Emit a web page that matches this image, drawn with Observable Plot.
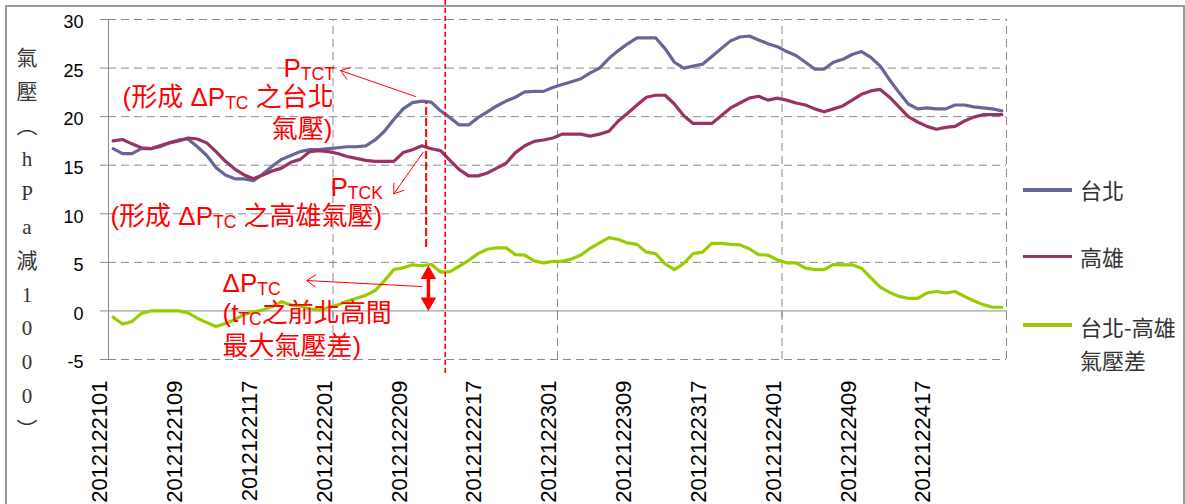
<!DOCTYPE html>
<html>
<head>
<meta charset="utf-8">
<script src="https://cdn.jsdelivr.net/npm/d3@7"></script>
<script src="https://cdn.jsdelivr.net/npm/@observablehq/plot@0.6"></script>
<style>
  html, body { margin: 0; padding: 0; background: #fff; }
  #chart { position: relative; width: 1185px; height: 504px; overflow: hidden; }
  #frame { position: absolute; left: 5px; top: 5px; width: 1176px; height: 540px; border: 2px solid #9a9a9a; }
  #chart svg { position: absolute; left: 0; top: 0; }
  .ytitle { position: absolute; width: 30px; text-align: center; font: 21px/24px "Liberation Serif", "Noto Sans CJK TC", serif; color: #333; }
  .swatch { position: absolute; left: 1023px; width: 49px; height: 3.5px; }
  .legtext { position: absolute; left: 1080px; font: 22px/33.3px "Noto Sans CJK TC", sans-serif; color: #333; white-space: pre; }
</style>
</head>
<body>
<div id="chart"><div id="frame"></div></div>
<script>
// Hourly sea-level pressure (minus 1000 hPa), 2012-12-21 01h to 2012-12-24 24h
const days = ["20121221", "20121222", "20121223", "20121224"];
const timeLabels = days.flatMap(d => d3.range(1, 25).map(h => d + String(h).padStart(2, "0")));
const tickLabels = [
  "2012122101", "2012122109", "2012122117", "2012122201", "2012122209", "2012122217",
  "2012122301", "2012122309", "2012122317", "2012122401", "2012122409", "2012122417"
];

const taipei = [
  16.7, 16.2, 16.2, 16.7, 16.7, 16.9, 17.3, 17.6,
  17.7, 16.9, 16.0, 14.75, 14.0, 13.6, 13.6, 13.4,
  14.1, 14.9, 15.6, 16.0, 16.4, 16.6, 16.6, 16.7,
  16.8, 16.9, 16.9, 17.0, 17.6, 18.5, 19.7, 20.8,
  21.45, 21.6, 21.5, 20.6, 19.9, 19.15, 19.15, 19.9,
  20.5, 21.1, 21.6, 22.0, 22.55, 22.6, 22.6, 23.0,
  23.3, 23.6, 23.9, 24.5, 25.0, 26.0, 26.8, 27.5,
  28.1, 28.1, 28.1, 27.0, 25.6, 25.0, 25.2, 25.4,
  26.2, 27.0, 27.8, 28.2, 28.3, 27.9, 27.5, 27.2,
  26.7, 26.3, 25.6, 24.9, 24.9, 25.6, 25.9, 26.4,
  26.7, 26.1, 25.2, 23.8, 22.5, 21.3, 20.8, 20.9,
  20.8, 20.8, 21.2, 21.2, 21.0, 20.9, 20.8, 20.6
];

const kaohsiung = [
  17.5, 17.65, 17.2, 16.8, 16.7, 17.0, 17.3, 17.5,
  17.8, 17.7, 17.3, 16.4, 15.4, 14.6, 14.0, 13.6,
  14.0, 14.4, 14.7, 15.3, 15.6, 16.4, 16.5, 16.4,
  16.2, 15.9, 15.7, 15.5, 15.4, 15.4, 15.4, 16.3,
  16.6, 17.0, 16.7, 16.5, 15.5, 14.55, 13.9, 13.9,
  14.2, 14.7, 15.2, 16.3, 17.0, 17.45, 17.6, 17.8,
  18.2, 18.2, 18.2, 18.0, 18.2, 18.5, 19.55, 20.35,
  21.2, 22.0, 22.2, 22.2, 21.3, 20.1, 19.3, 19.3,
  19.3, 20.1, 20.9, 21.4, 21.9, 22.1, 21.7, 21.9,
  21.7, 21.4, 21.2, 20.8, 20.5, 20.8, 21.1, 21.7,
  22.3, 22.65, 22.8, 22.0, 21.0, 20.0, 19.45, 19.0,
  18.7, 18.9, 19.0, 19.55, 19.95, 20.2, 20.2, 20.2
];

const difference = [
  -0.65, -1.35, -1.1, -0.25, 0, 0, 0, 0,
  -0.2, -0.75, -1.2, -1.6, -1.3, -0.9, -0.35, -0.1,
  0.1, 0.45, 0.95, 0.6, 0.5, 0.2, 0.1, 0.35,
  0.6, 1.0, 1.3, 1.6, 2.1, 3.1, 4.25, 4.45,
  4.75, 4.65, 4.8, 4.0, 4.05, 4.6, 5.2, 5.9,
  6.35, 6.5, 6.5, 5.8, 5.75, 5.15, 4.95, 5.1,
  5.1, 5.35, 5.75, 6.45, 7.0, 7.55, 7.35, 7.0,
  6.85, 6.05, 5.9, 4.85, 4.25, 4.9, 5.9, 6.05,
  6.95, 6.95, 6.85, 6.8, 6.4, 5.8, 5.75, 5.25,
  4.95, 4.95, 4.4, 4.25, 4.25, 4.8, 4.75, 4.75,
  4.4, 3.4, 2.45, 1.9, 1.5, 1.3, 1.3, 1.85,
  2.0, 1.85, 2.0, 1.5, 1.05, 0.65, 0.38, 0.38
];

const seriesNames = ["台北", "高雄", "台北-高雄\n氣壓差"];
const seriesColors = ["#666699", "#993366", "#99CC00"];
const yTicks = [-5, 0, 5, 10, 15, 20, 25, 30];
const yTitle = ["氣", "壓", "︵", "h", "P", "a", "減", "1", "0", "0", "0", "︶"];

// Annotation texts, positioned in (hour index, pressure) units; _{..} marks a subscript
const notesStart = [
  {i: 18.21, v: 24.13, label: "P_{TCT}"},
  {i: 1.0, v: 21.1, label: "(形成 ΔP_{TC} 之台北"},
  {i: 23.23, v: 11.88, label: "P_{TCK}"},
  {i: -0.29, v: 8.84, label: "(形成 ΔP_{TC} 之高雄氣壓)"},
  {i: 11.69, v: 1.99, label: "ΔP_{TC}"},
  {i: 11.69, v: -1.11, label: "(t_{TC}之前北高間"},
  {i: 11.69, v: -4.54, label: "最大氣壓差)"}
];
const notesEnd = [
  {i: 23.45, v: 17.8, label: "氣壓)"}
];
const pointers = [
  {i1: 32.32, v1: 22.07, i2: 24.30, v2: 24.75},
  {i1: 33.14, v1: 16.34, i2: 30.0, v2: 12.05},
  {i1: 32.99, v1: 2.51, i2: 20.7, v2: 3.13}
];
const maxDiffIndex = 33.7, maxDiffValue = 4.67;  // ΔP_TC bracket
const peakIndex = 33.46;                            // Taipei/Kaohsiung peak
const typhoonIndex = 35.5;                          // t_TC

const rows = timeLabels.map((t, i) => ({i, t, taipei: taipei[i], kaohsiung: kaohsiung[i], difference: difference[i]}));
const tickIdx = tickLabels.map(t => timeLabels.indexOf(t));

const grey = "#8a8a8a";
const red = "#ff0000";
const latinCjk = "'Liberation Sans','Noto Sans CJK TC',sans-serif";

const chart = Plot.plot({
  width: 1185,
  height: 504,
  marginLeft: 108,
  marginRight: 179,
  marginTop: 19,
  marginBottom: 145,
  x: {type: "linear", domain: [-0.5, 95.5]},
  y: {domain: [-5, 30]},
  style: {background: "transparent", overflow: "visible", fontFamily: latinCjk},
  marks: [
    Plot.ruleY(yTicks.filter(d => d !== 0), {stroke: grey, strokeDasharray: "8,5"}),
    Plot.ruleX([23.5, 47.5, 71.5, 95.5], {y1: -5, y2: 30, stroke: grey, strokeDasharray: "8,5"}),
    Plot.ruleY([0], {stroke: grey}),
    Plot.ruleX([23.5, 47.5, 71.5, 95.5], {y1: 0, y2: -0.75, stroke: grey}),
    Plot.ruleX([-0.5], {y1: -5, y2: 30, stroke: grey}),
    Plot.axisY({ticks: yTicks, tickSize: 8, stroke: grey, tickFormat: () => "", label: null}),
    Plot.axisY({ticks: yTicks, tickSize: 0, tickPadding: 25, dy: 3, fontSize: 18, fill: "#000", label: null,
      tickFormat: d => String(d), fontFamily: "'Liberation Sans',sans-serif"}),
    Plot.axisX({ticks: tickIdx, tickFormat: i => timeLabels[i], tickRotate: -90, tickSize: 0, tickPadding: 21,
      dx: -13, fontSize: 22, fill: "#000", label: null, fontFamily: "'Liberation Sans',sans-serif"}),
    Plot.lineY(rows, {x: "i", y: "taipei", stroke: seriesColors[0], strokeWidth: 3.2}),
    Plot.lineY(rows, {x: "i", y: "kaohsiung", stroke: seriesColors[1], strokeWidth: 3.2}),
    Plot.lineY(rows, {x: "i", y: "difference", stroke: seriesColors[2], strokeWidth: 3.2}),
    // t_TC and peak markers
    Plot.ruleX([typhoonIndex], {y1: -6.44, y2: 32, stroke: red, strokeWidth: 1.6, strokeDasharray: "5,3"}),
    Plot.ruleX([peakIndex], {y1: 6.53, y2: 21.45, stroke: red, strokeWidth: 2, strokeDasharray: "8,3"}),
    // ΔP_TC bracket: shaft between two filled heads
    Plot.ruleX([maxDiffIndex], {y1: maxDiffValue, y2: 0, stroke: red, strokeWidth: 3.5, insetTop: 8, insetBottom: 8}),
    Plot.dot([{i: maxDiffIndex, v: maxDiffValue}], {x: "i", y: "v", symbol: "triangle", r: 5.8, fill: red, dy: 9}),
    Plot.dot([{i: maxDiffIndex, v: 0}], {x: "i", y: "v", symbol: "triangle", r: 5.8, fill: red, rotate: 180, dy: -9}),
    Plot.arrow(pointers, {x1: "i1", y1: "v1", x2: "i2", y2: "v2", stroke: red, strokeWidth: 1, headLength: 16, headAngle: 70}),
    Plot.text(notesStart, {x: "i", y: "v", text: "label", textAnchor: "start", lineAnchor: "bottom",
      fontSize: 26, fill: red, fontFamily: latinCjk}),
    Plot.text(notesEnd, {x: "i", y: "v", text: "label", textAnchor: "end", lineAnchor: "bottom",
      fontSize: 26, fill: red, fontFamily: latinCjk})
  ]
});

// Turn _{...} runs into subscript tspans
const SVGNS = "http://www.w3.org/2000/svg";
chart.querySelectorAll("text").forEach(t => {
  const raw = t.textContent;
  if (!raw.includes("_{")) return;
  t.textContent = "";
  let shifted = false;
  for (const part of raw.split(/(_\{[^}]*\})/)) {
    if (!part) continue;
    const ts = document.createElementNS(SVGNS, "tspan");
    if (part.startsWith("_{")) {
      ts.textContent = part.slice(2, -1);
      ts.setAttribute("font-size", "17.5");
      ts.setAttribute("dy", "3");
      shifted = true;
    } else {
      ts.textContent = part;
      if (shifted) { ts.setAttribute("dy", "-3"); shifted = false; }
    }
    t.appendChild(ts);
  }
});

const root = document.getElementById("chart");
root.appendChild(chart);

// Vertical axis title, one glyph per row
yTitle.forEach((ch, k) => {
  const s = document.createElement("div");
  s.className = "ytitle";
  s.textContent = ch;
  s.style.left = "12px";
  s.style.top = (58 + 33.8 * k - 12) + "px";
  root.appendChild(s);
});

// Legend
const legendY = [190, 256.7, 326.7];
seriesNames.forEach((name, k) => {
  const sw = document.createElement("div");
  sw.className = "swatch";
  sw.style.background = seriesColors[k];
  sw.style.top = (legendY[k] - 1.75 - (k === 2 ? 1.5 : 0)) + "px";
  root.appendChild(sw);
  const tx = document.createElement("div");
  tx.className = "legtext";
  tx.textContent = name;
  tx.style.top = (legendY[k] - 16.65) + "px";
  root.appendChild(tx);
});
</script>
</body>
</html>
